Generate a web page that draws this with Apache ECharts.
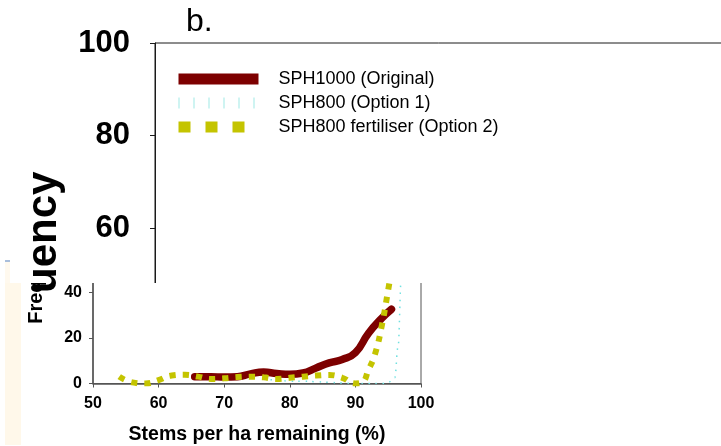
<!DOCTYPE html>
<html>
<head>
<meta charset="utf-8">
<script src="https://cdn.jsdelivr.net/npm/echarts@6/dist/echarts.min.js"></script>
<style>
  html, body { margin: 0; padding: 0; background: #fff; }
  #stage { position: relative; width: 721px; height: 446px; overflow: hidden; }
  /* enlarged panel, only its top part is shown */
  #upperClip { position: absolute; left: 0; top: 0; width: 721px; height: 292px; overflow: hidden; z-index: 1; }
  /* small panel, shown from y = 283 downwards */
  #lowerClip { position: absolute; left: 0; top: 283px; width: 721px; height: 163px; overflow: hidden; z-index: 2; }
  #upper { position: absolute; left: 0; top: 0; width: 721px; height: 446px; }
  #lower { position: absolute; left: 0; top: -283px; width: 721px; height: 446px; }
</style>
</head>
<body>
<div id="stage">
  <div id="upperClip"><div id="upper"></div></div>
  <div id="lowerClip"><div id="lower"></div></div>
</div>
<script>
// Frequency distribution of stems per ha remaining (%)
const seriesNames = ['SPH1000 (Original)', 'SPH800 (Option 1)', 'SPH800 fertiliser (Option 2)'];
const seriesColors = ['#7d0000', '#6fe0e0', '#c4c400'];

const sph1000X = [65.5, 68, 70, 72, 74, 76, 78, 80, 82, 84, 86, 88, 90, 92, 94, 95.5];
const sph1000Y = [3, 3, 2.8, 3, 4.2, 5, 4.4, 4, 4.6, 6.8, 9, 10.5, 13.5, 22, 28.5, 32.5];

const sph800X = [76, 78, 80, 82, 84, 86, 88, 90, 92, 94, 95, 96, 96.5, 97, 97.5];
const sph800Y = [2, 1.5, 1, 1, 0.8, 0.5, 0.2, 0, 0, 0, 0.5, 2.5, 16, 46, 80];

const sph800fX = [54, 56, 58, 60, 62, 64, 66, 68, 70, 72, 74, 76, 78, 80, 82, 84, 86, 88, 90, 91, 92, 93, 94, 95, 96];
const sph800fY = [3, 0.5, 0, 1.5, 3.5, 3.8, 3, 2, 2.3, 2.8, 3, 2.7, 2, 2.5, 3, 3.5, 3.7, 2.5, 0, 0.5, 6, 13, 25, 41, 58];

const xTicks = [50, 60, 70, 80, 90, 100];
const yTicks = [0, 20, 40, 60, 80, 100];

const xTitle = 'Stems per ha remaining (%)';
const yTitle = 'Frequency';
const panelTag = 'b.';

const FONT = "'Liberation Sans', Arial, sans-serif";

function pairs(xs, ys) { return xs.map((x, i) => [x, ys[i]]); }

// k = scale of the panel (1 = small panel, 2 = enlarged panel)
function buildSeries(k) {
  const base = { type: 'line', smooth: 0.5, symbol: 'none', silent: true, clip: true, z: 3 };
  return [
    Object.assign({}, base, {
      name: seriesNames[0],
      data: pairs(sph1000X, sph1000Y),
      lineStyle: { color: seriesColors[0], width: 7.5 * k, cap: 'round', join: 'round' },
      itemStyle: { color: seriesColors[0] }
    }),
    Object.assign({}, base, {
      name: seriesNames[1],
      smooth: 0.4,
      smoothMonotone: 'x',
      data: pairs(sph800X, sph800Y),
      lineStyle: { color: seriesColors[1], width: 1.5 * k, type: [1.5 * k, 5.5 * k] },
      itemStyle: { color: seriesColors[1] }
    }),
    Object.assign({}, base, {
      name: seriesNames[2],
      data: pairs(sph800fX, sph800fY),
      lineStyle: { color: seriesColors[2], width: 6 * k, type: [6 * k, 7.3 * k] },
      itemStyle: { color: seriesColors[2] }
    })
  ];
}

function valueAxisCommon(min, max, interval) {
  return { type: 'value', min: min, max: max, interval: interval, splitLine: { show: false } };
}

// enlarged panel
const upperChart = echarts.init(document.getElementById('upper'), null, { renderer: 'canvas' });
upperChart.setOption({
  animation: false,
  textStyle: { fontFamily: FONT },
  grid: {
    left: 155, top: 43, width: 656, height: 462.5,
    outerBoundsMode: 'none', containLabel: false,
    show: true, borderColor: '#1a1a1a', borderWidth: 1, backgroundColor: 'transparent'
  },
  xAxis: Object.assign(valueAxisCommon(xTicks[0], xTicks[xTicks.length - 1], 10), {
    axisLine: { lineStyle: { color: '#1a1a1a' } },
    axisLabel: { fontSize: 31, fontWeight: 'bold', color: '#000' }
  }),
  yAxis: Object.assign(valueAxisCommon(yTicks[0], yTicks[yTicks.length - 1], 20), {
    name: yTitle,
    nameLocation: 'middle',
    nameGap: 90,
    nameRotate: 90,
    nameTextStyle: { fontSize: 42, fontWeight: 'bold', color: '#000', fontFamily: FONT, padding: [0, 7, 0, 0] },
    axisLine: { show: true, lineStyle: { color: '#1a1a1a', width: 1 } },
    axisTick: { show: true, length: 5, lineStyle: { color: '#1a1a1a' } },
    axisLabel: { fontSize: 31, fontWeight: 'bold', color: '#000', margin: 25, fontFamily: FONT }
  }),
  legend: {
    orient: 'vertical',
    left: 168,
    top: 65,
    itemWidth: 80,
    itemHeight: 11,
    itemGap: 6,
    selectedMode: false,
    textStyle: { fontSize: 18, color: '#000', fontFamily: FONT, padding: [0, 0, 0, 15] },
    data: [
      { name: seriesNames[0], itemStyle: { opacity: 0 },
        lineStyle: { width: 11, color: seriesColors[0], type: 'solid', cap: 'butt' } },
      { name: seriesNames[1], itemStyle: { opacity: 0 },
        lineStyle: { width: 11, color: '#9fe9e6', type: [1, 14], cap: 'butt' } },
      { name: seriesNames[2], itemStyle: { opacity: 0 },
        lineStyle: { width: 11, color: seriesColors[2], type: [12, 15], cap: 'butt' } }
    ]
  },
  graphic: [
    { type: 'text', left: 186, top: 6, z: 10,
      style: { text: panelTag, fontSize: 32, fontFamily: FONT, fill: '#000' } },
    { type: 'rect', shape: { x: 5, y: 262, width: 5, height: 25 }, z: -5, silent: true,
      style: { fill: '#fff9ee' } },
    { type: 'rect', shape: { x: 5, y: 260, width: 5, height: 2 }, z: -5, silent: true,
      style: { fill: '#a9bedb' } }
  ],
  series: buildSeries(2)
});

// small panel
const lowerChart = echarts.init(document.getElementById('lower'), null, { renderer: 'canvas' });
lowerChart.setOption({
  animation: false,
  textStyle: { fontFamily: FONT },
  grid: {
    left: 93, top: 155, width: 328, height: 228.5,
    outerBoundsMode: 'none', containLabel: false,
    show: true, borderColor: '#555', borderWidth: 1, backgroundColor: '#fff'
  },
  xAxis: Object.assign(valueAxisCommon(xTicks[0], xTicks[xTicks.length - 1], 10), {
    name: xTitle,
    nameLocation: 'middle',
    nameGap: 41,
    nameTextStyle: { fontSize: 19.5, fontWeight: 'bold', color: '#000', fontFamily: FONT },
    axisLine: { lineStyle: { color: '#555', width: 1.5 } },
    axisTick: { show: true, inside: false, length: 4, lineStyle: { color: '#555' } },
    axisLabel: { fontSize: 16, fontWeight: 'bold', color: '#000', margin: 12, fontFamily: FONT }
  }),
  yAxis: Object.assign(valueAxisCommon(yTicks[0], yTicks[yTicks.length - 1], 20), {
    name: yTitle,
    nameLocation: 'middle',
    nameGap: 47,
    nameRotate: 90,
    nameTextStyle: { fontSize: 20, fontWeight: 'bold', color: '#000', fontFamily: FONT, padding: [0, 8, 0, 0] },
    axisLine: { show: true, lineStyle: { color: '#555', width: 1.5 } },
    axisTick: { show: true, length: 4, lineStyle: { color: '#555' } },
    axisLabel: { fontSize: 16, fontWeight: 'bold', color: '#000', margin: 11, fontFamily: FONT }
  }),
  graphic: [
    { type: 'rect', shape: { x: 5, y: 283, width: 16, height: 162 }, z: -5, silent: true,
      style: { fill: '#fff8ea' } }
  ],
  series: buildSeries(1)
});
</script>
</body>
</html>
